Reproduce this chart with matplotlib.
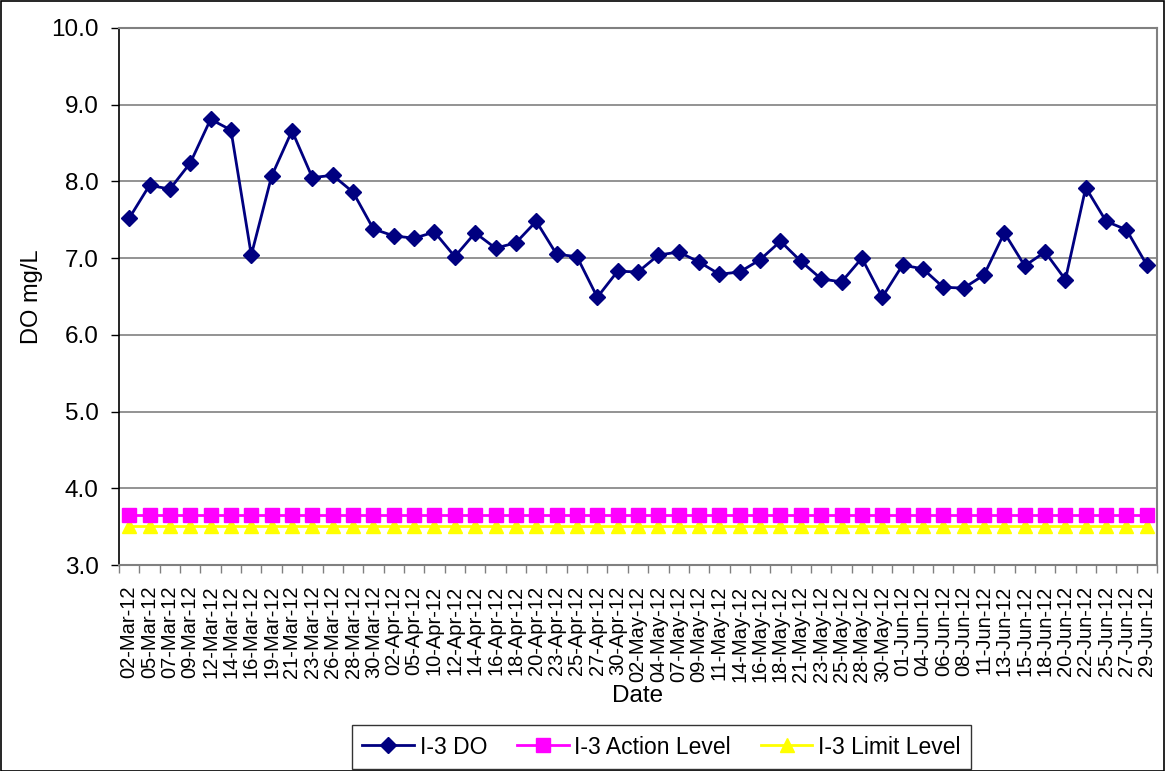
import matplotlib
matplotlib.use("Agg")
import matplotlib.pyplot as plt
from matplotlib.patches import Rectangle

plt.rcParams['font.family'] = ['Liberation Sans', 'DejaVu Sans']

dates = ["02-Mar-12", "05-Mar-12", "07-Mar-12", "09-Mar-12", "12-Mar-12", "14-Mar-12",
         "16-Mar-12", "19-Mar-12", "21-Mar-12", "23-Mar-12", "26-Mar-12", "28-Mar-12",
         "30-Mar-12", "02-Apr-12", "05-Apr-12", "10-Apr-12", "12-Apr-12", "14-Apr-12",
         "16-Apr-12", "18-Apr-12", "20-Apr-12", "23-Apr-12", "25-Apr-12", "27-Apr-12",
         "30-Apr-12", "02-May-12", "04-May-12", "07-May-12", "09-May-12", "11-May-12",
         "14-May-12", "16-May-12", "18-May-12", "21-May-12", "23-May-12", "25-May-12",
         "28-May-12", "30-May-12", "01-Jun-12", "04-Jun-12", "06-Jun-12", "08-Jun-12",
         "11-Jun-12", "13-Jun-12", "15-Jun-12", "18-Jun-12", "20-Jun-12", "22-Jun-12",
         "25-Jun-12", "27-Jun-12", "29-Jun-12"]

do_values = [7.52, 7.95, 7.90, 8.24, 8.81, 8.67, 7.04, 8.07, 8.66, 8.05, 8.08, 7.86,
             7.38, 7.29, 7.26, 7.34, 7.02, 7.33, 7.13, 7.20, 7.48, 7.05, 7.02, 6.49,
             6.83, 6.82, 7.04, 7.08, 6.95, 6.79, 6.82, 6.98, 7.22, 6.96, 6.73, 6.69,
             7.00, 6.49, 6.91, 6.86, 6.62, 6.61, 6.78, 7.33, 6.90, 7.08, 6.72, 7.92,
             7.48, 7.37, 6.91]

action_level = [3.65] * len(dates)
limit_level = [3.51] * len(dates)

yticks = [3.0, 4.0, 5.0, 6.0, 7.0, 8.0, 9.0, 10.0]

W, H = 1165, 771
fig = plt.figure(figsize=(W / 100, H / 100), dpi=100)
ax = fig.add_axes([119 / W, 1 - 565 / H, (1157 - 119) / W, (565 - 28) / H])

x = list(range(len(dates)))
ax.plot(x, do_values, color='#000080', lw=2, marker='D', ms=8.5, mec='#000080',
        mfc='#000080', label='I-3 DO', zorder=4)
ax.plot(x, action_level, color='#FF00FF', lw=2, marker='s', ms=9.5, mec='#FF00FF',
        mfc='#FF00FF', label='I-3 Action Level', zorder=3)
ax.plot(x, limit_level, color='#FFFF00', lw=2, marker='^', ms=10, mec='#FFFF00',
        mfc='#FFFF00', label='I-3 Limit Level', zorder=2)

ax.set_xlim(-0.5, len(dates) - 0.5)
ax.set_ylim(3.0, 10.0)
ax.set_yticks(yticks)
ax.set_yticklabels([f"{v:.1f}" for v in yticks], fontsize=17.5)
ax.set_xticks(x)
ax.set_xticklabels(dates, rotation=90, fontsize=14.5)
ax.tick_params(axis='x', which='major', length=0, pad=15)
ax.set_xticks([i - 0.5 for i in range(len(dates) + 1)], minor=True)
ax.tick_params(axis='x', which='minor', length=6, width=1, color='#808080', direction='out')
ax.tick_params(axis='y', which='major', length=5.5, width=1, color='black', direction='out', pad=9)

ax.grid(axis='y', color='#808080', lw=1.2)
ax.set_axisbelow(True)
for s in ['top', 'right', 'bottom']:
    ax.spines[s].set_color('#808080')
    ax.spines[s].set_linewidth(1.5)
ax.spines['left'].set_color('black')
ax.spines['left'].set_linewidth(1.2)

ax.set_ylabel('DO mg/L', fontsize=17, labelpad=6)
ax.set_xlabel('Date', fontsize=17.5, labelpad=2)

leg = fig.legend(loc='center', bbox_to_anchor=(661.5 / W, 1 - 747 / H), ncol=3, fontsize=16.5,
                 frameon=True, fancybox=False, edgecolor='black', handlelength=2.25,
                 columnspacing=1.3, handletextpad=0.25, borderpad=0.45, borderaxespad=0)
leg.get_frame().set_linewidth(1)

fig.patches.append(Rectangle((1 / W, 0), 1 - 2 / W, 1 - 1 / H, transform=fig.transFigure,
                             fill=False, edgecolor='black', lw=1.2))

fig.savefig('out.png', dpi=100)
